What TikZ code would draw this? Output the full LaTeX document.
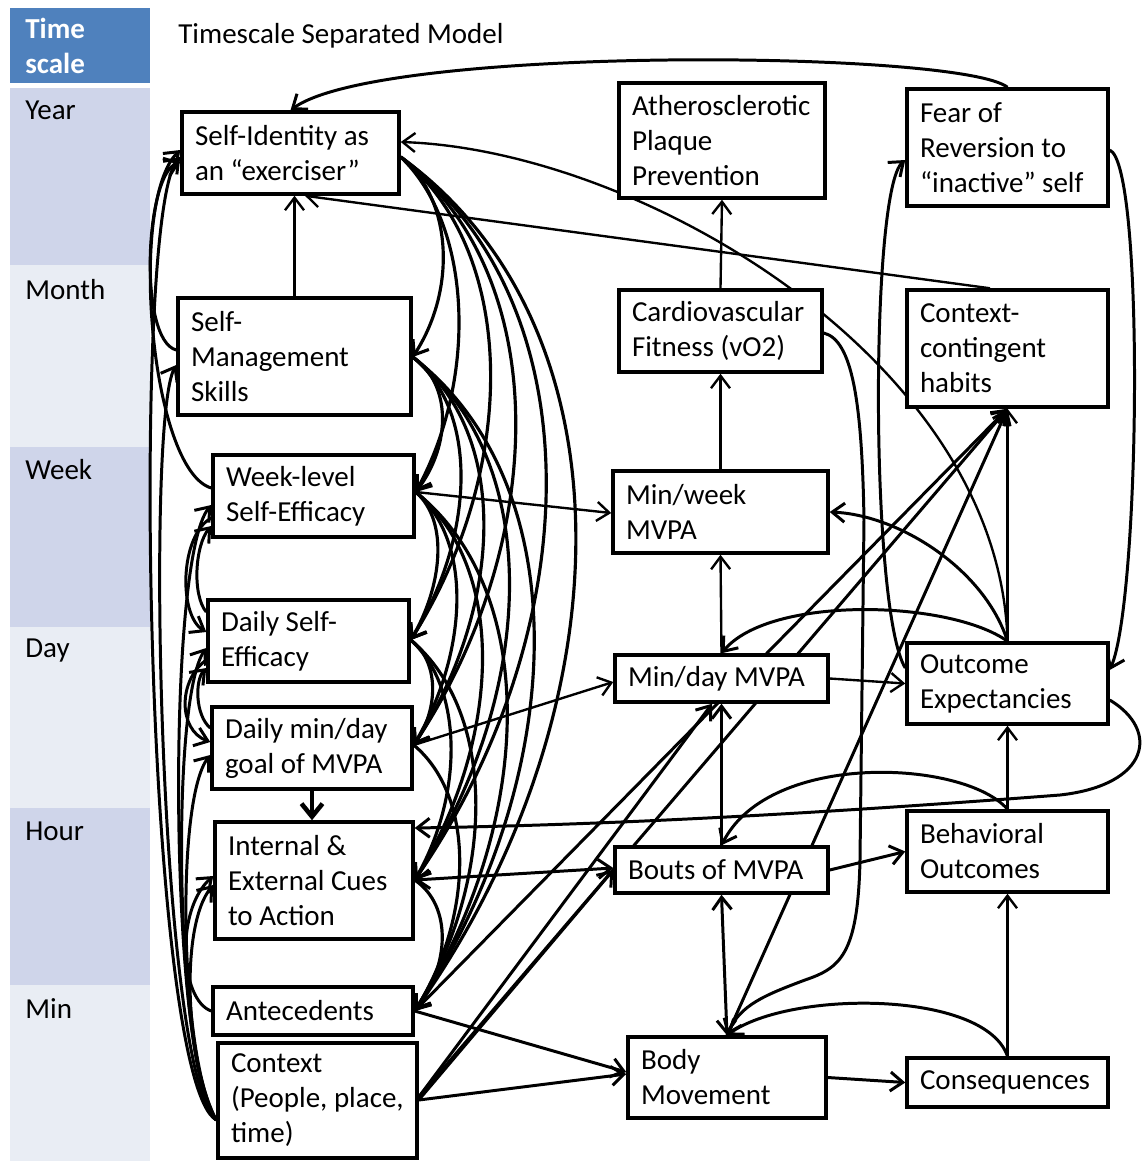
\documentclass[tikz,border=0pt]{standalone}
\usepackage{fontspec}
\setmainfont{Carlito}
\usetikzlibrary{arrows.meta,calc}
\pgfdeclarelayer{back}
\pgfdeclarelayer{edges}
\pgfsetlayers{back,edges,main}
\definecolor{hdrblue}{HTML}{4F81BD}
\definecolor{bandA}{HTML}{CFD5EA}
\definecolor{bandB}{HTML}{E9EDF4}
\tikzset{
  txt/.style={font=\fontsize{16.5}{19.9}\selectfont},
  box/.style={txt, draw, line width=2pt, fill=white, align=flush left, inner xsep=0.26cm, inner ysep=0pt},
  ln/.style={line width=1.7pt, -{Straight Barb[length=2.5mm,width=3.8mm]}},
  thin/.style={line width=1.35pt},
  bi/.style={line width=1.7pt, {Straight Barb[length=2.5mm,width=3.8mm]}-{Straight Barb[length=2.5mm,width=3.8mm]}},
  fan/.style={line width=1.8pt, -{Straight Barb[length=2.5mm,width=3.8mm]}},
  heavy/.style={line width=2.6pt, -{Straight Barb[length=2.6mm,width=4.2mm]}},
  bandlbl/.style={txt, anchor=west, inner sep=0pt}
}
\begin{document}
\begin{tikzpicture}[x=0.02cm,y=-0.02cm]
\useasboundingbox (0,0) rectangle (1144,1161);
\begin{pgfonlayer}{back}
\fill[white] (0,0) rectangle (1144,1161);
\fill[hdrblue] (10,8) rectangle (150,83);
\fill[bandA] (10,88) rectangle (150,265);
\fill[bandB] (10,265) rectangle (150,447);
\fill[bandA] (10,447) rectangle (150,627);
\fill[bandB] (10,627) rectangle (150,808);
\fill[bandA] (10,808) rectangle (150,985);
\fill[bandB] (10,985) rectangle (150,1161);
\end{pgfonlayer}

% time scale column
\node[bandlbl, align=flush left, text=white, font=\fontsize{16.5}{19.9}\selectfont\bfseries] (hdr) at (25,46) {Time\\scale};
\node[bandlbl] (lYear) at (25,110) {Year};
\node[bandlbl] (lMonth) at (25,290) {Month};
\node[bandlbl] (lWeek) at (25,470) {Week};
\node[bandlbl] (lDay) at (25,651) {Day};
\node[bandlbl] (lHour) at (25,831) {Hour};
\node[bandlbl] (lMin) at (25,1009) {Min};
\node[bandlbl] (title) at (178,36) {Timescale Separated Model};

% left column
\node[box, minimum width=4.34cm, minimum height=1.64cm, text width=3.82cm] (SI) at (290.5,153) {\mbox{Self-Identity as}\\\mbox{an “exerciser”}};
\node[box, minimum width=4.66cm, minimum height=2.34cm, text width=4.14cm] (SM) at (294.5,356.5) {Self-\\Management\\Skills};
\node[box, minimum width=4.02cm, minimum height=1.64cm, text width=3.5cm] (WSE) at (313.5,496) {Week-level\\Self-Efficacy};
\node[box, minimum width=4.02cm, minimum height=1.64cm, text width=3.5cm] (DSE) at (308.5,641) {\mbox{Daily Self-}\\Efficacy};
\node[box, minimum width=4.0cm, minimum height=1.64cm, text width=3.48cm] (DMG) at (312,748) {\mbox{Daily min/day}\\\mbox{goal of MVPA}};
\node[box, minimum width=3.96cm, minimum height=2.34cm, text width=3.44cm] (IEC) at (314,880.5) {\mbox{Internal \&}\\\mbox{External Cues}\\\mbox{to Action}};
\node[box, minimum width=4.0cm, minimum height=0.96cm, text width=3.48cm] (ANT) at (313,1011) {Antecedents};
\node[box, minimum width=3.98cm, minimum height=2.3cm, text width=3.46cm] (CTX) at (317.5,1100.5) {Context\\\mbox{(People, place,}\\time)};

% middle column
\node[box, minimum width=4.12cm, minimum height=2.3cm, text width=3.6cm] (APP) at (722,140.5) {Atherosclerotic\\Plaque\\Prevention};
\node[box, minimum width=4.06cm, minimum height=1.64cm, text width=3.54cm] (CVF) at (720.5,331) {Cardiovascular\\\mbox{Fitness (vO2)}};
\node[box, minimum width=4.3cm, minimum height=1.64cm, text width=3.78cm] (MW) at (720.5,512) {Min/week\\MVPA};
\node[box, minimum width=4.26cm, minimum height=0.94cm, text width=3.74cm] (MD) at (721.5,678.5) {\mbox{Min/day MVPA}};
\node[box, minimum width=4.26cm, minimum height=0.92cm, text width=3.74cm] (BOUT) at (721.5,870) {\mbox{Bouts of MVPA}};
\node[box, minimum width=3.96cm, minimum height=1.62cm, text width=3.44cm] (BODY) at (727,1077.5) {Body\\Movement};

% right column
\node[box, minimum width=4.02cm, minimum height=2.34cm, text width=3.5cm] (FEAR) at (1007.5,147.5) {Fear of\\\mbox{Reversion to}\\\mbox{“inactive” self}};
\node[box, minimum width=4.02cm, minimum height=2.34cm, text width=3.5cm] (CCH) at (1007.5,348.5) {Context-\\contingent\\habits};
\node[box, minimum width=4.02cm, minimum height=1.62cm, text width=3.5cm] (OE) at (1007.5,683.5) {Outcome\\Expectancies};
\node[box, minimum width=4.02cm, minimum height=1.62cm, text width=3.5cm] (BO) at (1007.5,851.5) {Behavioral\\Outcomes};
\node[box, minimum width=4.02cm, minimum height=0.98cm, text width=3.5cm] (CON) at (1007.5,1082.5) {Consequences};

\begin{pgfonlayer}{edges}
% ---- middle / right structure
\draw[ln, thin] (MW.north) -- (CVF.south);
\draw[ln, thin] (CVF.north) -- (APP.south);
\draw[ln, thin] (MD.north) -- (MW.south);
\draw[ln] (BOUT.north) -- (MD.south);
\draw[bi] (BOUT.south) -- (BODY.north);
\draw[ln] (BODY.east) -- (CON.west);
\draw[ln, thin] (CON.north) -- (BO.south);
\draw[ln, thin] (BO.north) -- (OE.south);
\draw[ln, thin] (MD.east) -- (OE.west);
\draw[ln] (BOUT.east) -- (BO.west);
\draw[ln, thin] (OE.north) -- (CCH.south);
\draw[ln] (OE.north) .. controls (985,570) and (900,515) .. (MW.east);
\draw[ln] (OE.north) .. controls (950,600) and (770,595) .. (MD.north);
\draw[ln, thin] (OE.north) .. controls (1000,360) and (640,150) .. (SI.east |- 0,142);
\draw[ln] (OE.west |- 0,668) .. controls (870,610) and (870,190) .. (FEAR.west |- 0,160);
\draw[ln] (FEAR.east |- 0,150) .. controls (1145,165) and (1140,600) .. (OE.east |- 0,670);
\draw[ln] (OE.east |- 0,700) .. controls (1160,730) and (1150,785) .. (1060,795) .. controls (800,815) and (600,825) .. (IEC.east |- 0,828);
\draw[ln] (BO.north) .. controls (965,760) and (770,750) .. (BOUT.north);
\draw[ln] (CON.north) .. controls (985,990) and (790,990) .. (BODY.north);
\draw[ln] (CVF.east |- 0,333) .. controls (852,340) and (862,400) .. (864,520) -- (860,860) .. controls (858,955) and (840,968) .. (805,980) .. controls (765,995) and (740,1005) .. (BODY.north);
\draw[ln] (BODY.north) -- (CCH.south);
\draw[ln] (ANT.east) -- (CCH.south);
\draw[ln] (CTX.east |- 0,1097) -- (CCH.south);
\draw[ln] (CTX.east |- 0,1097) -- (712,0 |- MD.south);
\draw[ln] (CTX.east |- 0,1100) -- (BOUT.west);
\draw[ln] (ANT.east) -- (BODY.west |- 0,1072);
\draw[ln] (CTX.east |- 0,1100) -- (BODY.west |- 0,1074);
\draw[ln, thin] (DMG.east |- 0,745) -- (MD.west |- 0,682);
\draw[ln, thin] (WSE.east |- 0,492) -- (MW.west |- 0,513);
\draw[bi] (IEC.east |- 0,880) -- (BOUT.west |- 0,868);
\draw[ln, thin] (990,0 |- CCH.north) -- (305,0 |- SI.south);
\draw[ln] (FEAR.north) .. controls (960,50) and (380,45) .. (SI.north);
\draw[ln, thin] (SM.north) -- (SM.north |- SI.south);
\draw[heavy] (DMG.south) -- (DMG.south |- IEC.north);

% ---- left side curves
\draw[ln] (CTX.west |- 0,1120) .. controls (145,1080) and (130,210) .. (SI.west |- 0,157);
\draw[ln] (CTX.west |- 0,1120) .. controls (160,1075) and (145,420) .. (SM.west |- 0,365);
\draw[ln] (CTX.west |- 0,1120) .. controls (170,1070) and (165,560) .. (WSE.west |- 0,505);
\draw[ln] (CTX.west |- 0,1120) .. controls (175,1065) and (170,700) .. (DSE.west |- 0,648);
\draw[ln] (CTX.west |- 0,1120) .. controls (180,1060) and (175,800) .. (DMG.west |- 0,755);
\draw[ln] (CTX.west |- 0,1120) .. controls (185,1060) and (180,925) .. (IEC.west |- 0,885);
\draw[ln] (ANT.west) .. controls (180,1000) and (175,910) .. (IEC.west |- 0,876);
\draw[ln] (WSE.west |- 0,488) .. controls (150,470) and (128,200) .. (SI.west |- 0,150);
\draw[ln] (SM.west |- 0,350) .. controls (138,340) and (145,175) .. (SI.west |- 0,162);
\draw[ln] (WSE.west |- 0,518) .. controls (180,535) and (178,615) .. (DSE.west |- 0,632);
\draw[ln] (DSE.west |- 0,612) .. controls (192,595) and (195,545) .. (WSE.west |- 0,526);
\draw[ln] (DSE.west |- 0,660) .. controls (178,680) and (178,730) .. (DMG.west |- 0,742);
\draw[ln] (DMG.west |- 0,728) .. controls (195,715) and (195,680) .. (DSE.west |- 0,668);

% ---- right side fan of left column
\draw[fan] (SI.east |- 0,157) .. controls (451,197) and (458,287) .. (SM.east |- 0,357);
\draw[fan] (SI.east |- 0,157) .. controls (471,224) and (479,375) .. (WSE.east |- 0,492);
\draw[fan] (SI.east |- 0,157) .. controls (520,254) and (517,471) .. (DSE.east |- 0,640);
\draw[fan] (SI.east |- 0,157) .. controls (553,275) and (550,539) .. (DMG.east |- 0,745);
\draw[fan] (SI.east |- 0,157) .. controls (595,302) and (589,627) .. (IEC.east |- 0,880);
\draw[fan] (SI.east |- 0,157) .. controls (637,328) and (626,713) .. (ANT.east);
\draw[fan] (SM.east |- 0,357) .. controls (452,384) and (451,445) .. (WSE.east |- 0,492);
\draw[fan] (SM.east |- 0,357) .. controls (482,414) and (472,541) .. (DSE.east |- 0,640);
\draw[fan] (SM.east |- 0,357) .. controls (512,435) and (502,609) .. (DMG.east |- 0,745);
\draw[fan] (SM.east |- 0,357) .. controls (547,462) and (535,697) .. (IEC.east |- 0,880);
\draw[fan] (SM.east |- 0,357) .. controls (582,488) and (566,783) .. (ANT.east);
\draw[fan] (WSE.east |- 0,492) .. controls (450,522) and (441,588) .. (DSE.east |- 0,640);
\draw[fan] (WSE.east |- 0,492) .. controls (475,543) and (466,656) .. (DMG.east |- 0,745);
\draw[fan] (WSE.east |- 0,492) .. controls (510,570) and (499,744) .. (IEC.east |- 0,880);
\draw[fan] (WSE.east |- 0,492) .. controls (545,596) and (530,830) .. (ANT.east);
\draw[fan] (DSE.east |- 0,640) .. controls (439,661) and (439,708) .. (DMG.east |- 0,745);
\draw[fan] (DSE.east |- 0,640) .. controls (464,688) and (463,796) .. (IEC.east |- 0,880);
\draw[fan] (DSE.east |- 0,640) .. controls (499,714) and (494,882) .. (ANT.east);
\draw[fan] (DMG.east |- 0,745) .. controls (477,798) and (472,919) .. (ANT.east);
\draw[fan] (IEC.east |- 0,880) .. controls (453,906) and (449,966) .. (ANT.east);
\end{pgfonlayer}
\end{tikzpicture}
\end{document}
